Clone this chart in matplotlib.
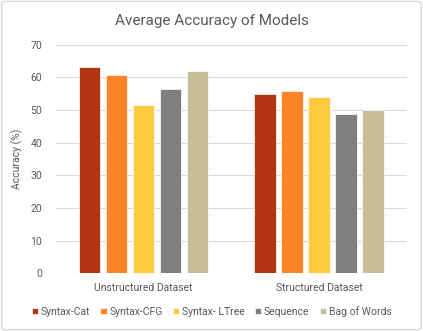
import matplotlib.pyplot as plt
import numpy as np
from matplotlib.patches import FancyBboxPatch

datasets = ["Unstructured Dataset", "Structured Dataset"]
models = ["Syntax-Cat", "Syntax-CFG", "Syntax- LTree", "Sequence", "Bag of Words"]
unstructured = [63.2, 60.6, 51.6, 56.4, 61.9]
structured = [54.9, 55.9, 53.9, 48.9, 50.0]
colors = ["#B33412", "#FF8427", "#FFC940", "#7F7F7F", "#C5BE99"]

values = np.array([unstructured, structured])
text_color = "#595959"
plt.rcParams["font.family"] = ["Roboto", "DejaVu Sans"]

fig = plt.figure(figsize=(4.23, 3.31), dpi=100)
ax = fig.add_axes([0.1324, 0.1743, 0.8286, 0.691])

x = np.arange(len(datasets))
width = 0.122
pitch = 0.154
for i, m in enumerate(models):
    ax.bar(x + (i - 2) * pitch, values[:, i], width, color=colors[i],
           edgecolor="white", linewidth=0.5, label=m, zorder=3)

ax.set_xlim(-0.5, 1.5)
ax.set_ylim(0, 70)
ax.set_yticks(range(0, 71, 10))
ax.set_xticks(x)
ax.set_xticklabels(datasets)
ax.grid(axis="y", color="#D9D9D9", linewidth=0.8, zorder=0)
for s in ax.spines.values():
    s.set_visible(False)
ax.tick_params(length=0, colors=text_color, labelsize=7.5)
ax.tick_params(axis="x", pad=7)
ax.tick_params(axis="y", pad=10)
ax.set_ylabel("Accuracy (%)", color=text_color, fontsize=7.5, labelpad=5)

fig.text(0.5, 0.938, "Average Accuracy of Models", ha="center", va="center",
         fontsize=11, color=text_color)

fig.legend(loc="center", bbox_to_anchor=(0.5, 0.06), ncol=5, frameon=False,
           fontsize=7.5, handlelength=0.6, handleheight=0.6, handletextpad=0.25,
           columnspacing=1.0, labelcolor=text_color)

border = FancyBboxPatch((0.004, 0.004), 0.992, 0.992, boxstyle="round,pad=0,rounding_size=0.01",
                        transform=fig.transFigure, fill=False, edgecolor="#D9D9D9", linewidth=1)
fig.patches.append(border)

fig.savefig("out.png", dpi=100)
